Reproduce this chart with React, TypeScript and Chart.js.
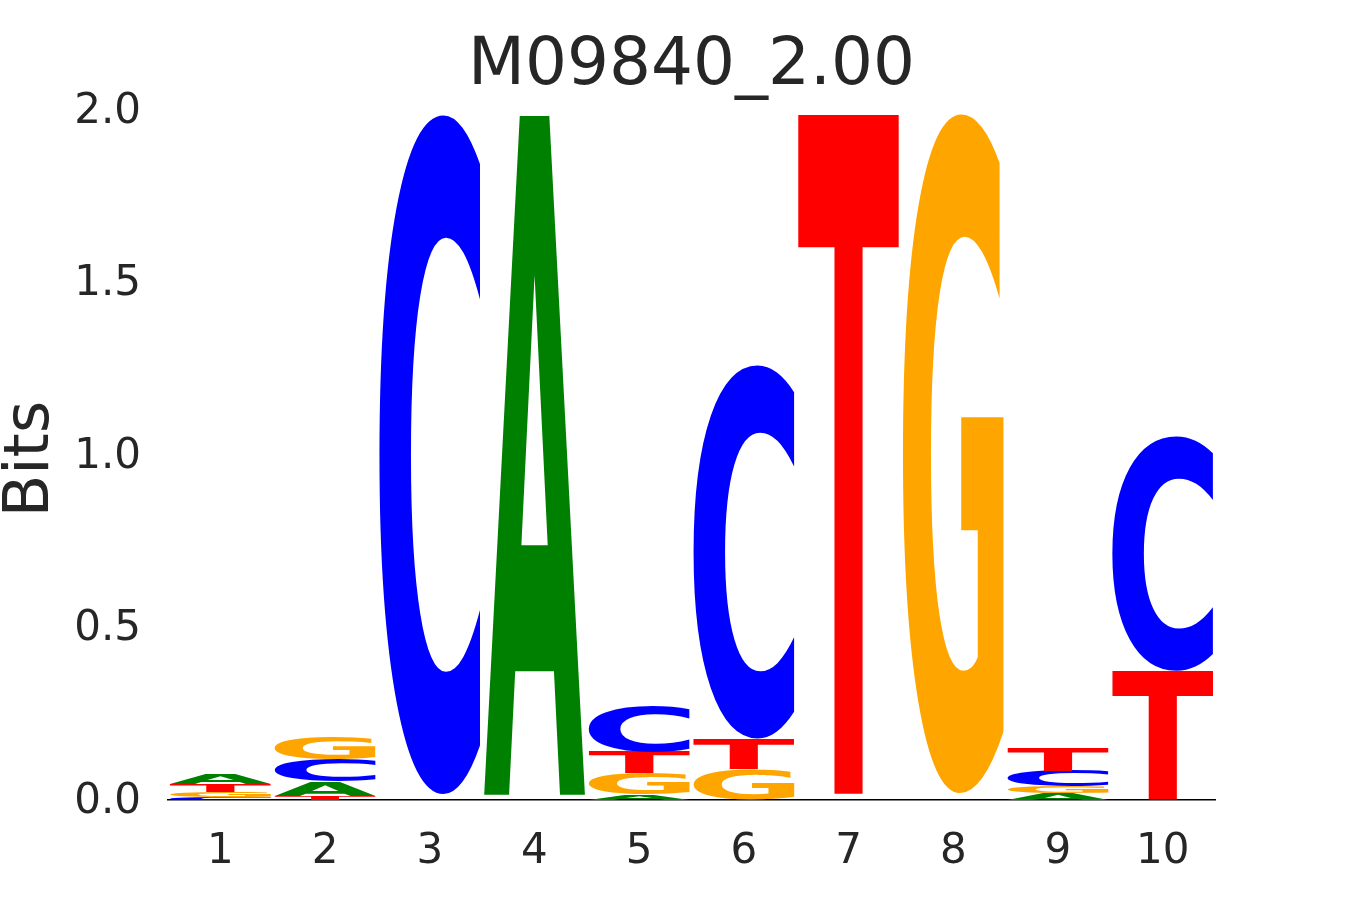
import React, { useEffect, useRef } from 'react';
import { Chart, registerables } from 'chart.js';

Chart.register(...registerables);

// ---- data ----
const positions = ['1', '2', '3', '4', '5', '6', '7', '8', '9', '10'];
const letters = ['A', 'C', 'G', 'T'];
const heightA = [0.028, 0.041, 0.005, 1.970, 0.016, 0.002, 0.006, 0.006, 0.019, 0.000];
const heightC = [0.008, 0.064, 1.970, 0.005, 0.135, 1.083, 0.006, 0.006, 0.045, 0.680];
const heightG = [0.016, 0.066, 0.005, 0.005, 0.061, 0.087, 0.006, 1.970, 0.020, 0.000];
const heightT = [0.022, 0.012, 0.005, 0.005, 0.063, 0.088, 1.970, 0.006, 0.068, 0.374];
const letterColors: Record<string, string> = { A: '#008000', C: '#0000ff', G: '#ffa500', T: '#ff0000' };
const yTickStep = 0.5;
const yMax = 2.0;
const chartTitle = 'M09840_2.00';
const yLabel = 'Bits';
const minDrawn = 0.007; // glyphs thinner than this are not rendered

const TEXT = '#262626';
const FONT = '"DejaVu Sans", "Liberation Sans", sans-serif';

function buildDatasets() {
  const all = [heightA, heightC, heightG, heightT];
  const ranks: { data: [number, number][]; letters: string[] }[] = [0, 1, 2, 3].map(() => ({ data: [], letters: [] }));
  positions.forEach((_, i) => {
    const items = letters.map((l, k) => ({ l, h: all[k][i] })).sort((a, b) => a.h - b.h);
    let acc = 0;
    items.forEach((it, r) => {
      ranks[r].data.push([acc, acc + it.h]);
      ranks[r].letters.push(it.l);
      acc += it.h;
    });
  });
  return ranks.map((r, idx) => ({
    label: 'rank' + idx,
    data: r.data,
    letters: r.letters,
    backgroundColor: 'rgba(0,0,0,0)',
    borderWidth: 0,
    grouped: false,
    categoryPercentage: 1.0,
    barPercentage: 0.96,
  }));
}

const glyphCache: Record<string, { l: number; r: number; a: number; d: number }> = {};
const GLYPH_SIZE = 400;
const GLYPH_FONT = `bold ${GLYPH_SIZE}px "DejaVu Sans"`;

function measureInk(ch: string) {
  if (glyphCache[ch]) return glyphCache[ch];
  const W = 700, H = 700, ox = 150, base = 520;
  const c = document.createElement('canvas');
  c.width = W; c.height = H;
  const g = c.getContext('2d')!;
  g.font = GLYPH_FONT;
  g.textAlign = 'left';
  g.textBaseline = 'alphabetic';
  g.fillStyle = '#000';
  g.fillText(ch, ox, base);
  const img = g.getImageData(0, 0, W, H).data;
  let minX = W, maxX = -1, minY = H, maxY = -1;
  for (let y = 0; y < H; y++) {
    for (let x = 0; x < W; x++) {
      if (img[(y * W + x) * 4 + 3] > 127) {
        if (x < minX) minX = x;
        if (x > maxX) maxX = x;
        if (y < minY) minY = y;
        if (y > maxY) maxY = y;
      }
    }
  }
  const m = { l: ox - minX, r: maxX + 1 - ox, a: base - minY, d: maxY + 1 - base };
  glyphCache[ch] = m;
  return m;
}

function drawGlyph(ctx: CanvasRenderingContext2D, ch: string, x0: number, y0: number, w: number, h: number, color: string) {
  const m = measureInk(ch);
  ctx.save();
  ctx.font = GLYPH_FONT;
  ctx.textAlign = 'left';
  ctx.textBaseline = 'alphabetic';
  const gw = m.l + m.r;
  const gh = m.a + m.d;
  ctx.translate(x0, y0);
  ctx.scale(w / gw, h / gh);
  ctx.fillStyle = color;
  ctx.fillText(ch, m.l, m.a);
  ctx.restore();
}

const logoPlugin = {
  id: 'logoGlyphs',
  afterDatasetsDraw(chart: any) {
    const ctx = chart.ctx as CanvasRenderingContext2D;
    chart.data.datasets.forEach((ds: any, di: number) => {
      const meta = chart.getDatasetMeta(di);
      meta.data.forEach((el: any, i: number) => {
        const [s, e] = ds.data[i];
        if (e - s < minDrawn) return;
        const ch = ds.letters[i];
        const top = Math.min(el.y, el.base);
        const hgt = Math.abs(el.base - el.y);
        drawGlyph(ctx, ch, el.x - el.width / 2, top, el.width, hgt, letterColors[ch]);
      });
    });
  },
  afterDraw(chart: any) {
    const ctx = chart.ctx as CanvasRenderingContext2D;
    const area = chart.chartArea;
    ctx.save();
    ctx.fillStyle = TEXT;
    ctx.font = `66px ${FONT}`;
    ctx.textAlign = 'center';
    ctx.textBaseline = 'alphabetic';
    ctx.fillText(chartTitle, (area.left + area.right) / 2, 84);
    ctx.translate(48, (area.top + area.bottom) / 2 + 4);
    ctx.rotate(-Math.PI / 2);
    ctx.font = `62px ${FONT}`;
    ctx.fillText(yLabel, 0, 0);
    ctx.restore();
  },
};

export default function App() {
  const ref = useRef<HTMLCanvasElement>(null);
  useEffect(() => {
    if (!ref.current) return;
    const chart = new Chart(ref.current, {
      type: 'bar',
      data: { labels: positions, datasets: buildDatasets() as any },
      options: {
        animation: false,
        responsive: false,
        devicePixelRatio: 1,
        layout: { padding: { top: 110, right: 135, left: 0, bottom: 0 } },
        plugins: { legend: { display: false }, tooltip: { enabled: false }, title: { display: false } },
        scales: {
          x: {
            type: 'category',
            grid: { display: false, drawTicks: false },
            border: { display: true, color: '#000000', width: 1.5 },
            ticks: { color: TEXT, font: { family: FONT, size: 42 }, padding: 27, maxRotation: 0 },
            afterFit: (s: any) => { s.height = 100; },
          },
          y: {
            type: 'linear',
            min: 0,
            max: yMax,
            grid: { display: false, drawTicks: false },
            border: { display: false },
            ticks: {
              stepSize: yTickStep,
              color: TEXT,
              font: { family: FONT, size: 42 },
              padding: 27,
              labelOffset: 2,
              callback: (v: any) => Number(v).toFixed(1),
            },
            afterFit: (s: any) => { s.width = 168; },
          },
        },
      } as any,
      plugins: [logoPlugin],
    });
    return () => chart.destroy();
  }, []);
  return (
    <div style={{ position: 'fixed', left: 0, top: 0, width: 1350, height: 900, background: '#fff' }}>
      <canvas ref={ref} width={1350} height={900} style={{ display: 'block' }} />
    </div>
  );
}
